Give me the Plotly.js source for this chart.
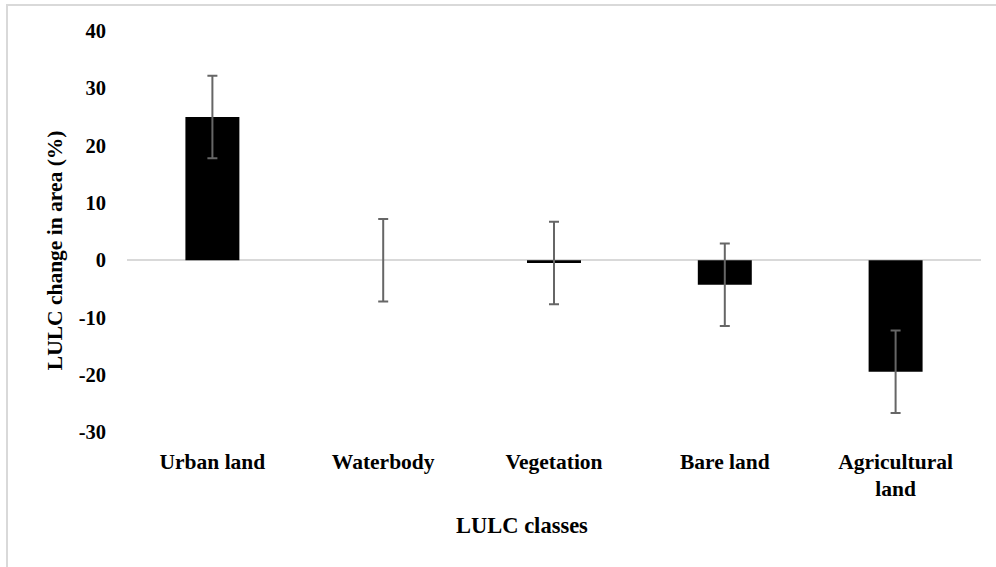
<!DOCTYPE html>
<html>
<head>
<meta charset="utf-8">
<script src="https://cdn.plot.ly/plotly-3.0.1.min.js"></script>
<style>
  html, body { margin: 0; padding: 0; background: #fff; }
  #wrap { position: relative; width: 996px; height: 567px; overflow: hidden; }
  #chart { position: absolute; left: 0; top: 0; width: 996px; height: 567px; }
  #frame { position: absolute; left: 6px; top: 4px; width: 1000px; height: 600px;
           border-left: 2px solid #d9d9d9; border-top: 2px solid #d9d9d9; pointer-events: none; }
</style>
</head>
<body>
<div id="wrap">
  <div id="chart"></div>
  <div id="frame"></div>
</div>
<script>
const categories = ["Urban land", "Waterbody", "Vegetation", "Bare land", "Agricultural<br>land"];
const changePct = [25.0, 0.0, -0.5, -4.3, -19.5];
const errorPct = [7.2, 7.2, 7.2, 7.2, 7.2];
const yTicks = [-30, -20, -10, 0, 10, 20, 30, 40];

const font = "'Liberation Serif', 'Times New Roman', serif";

const trace = {
  type: "bar",
  x: categories,
  y: changePct,
  width: 0.316,
  marker: { color: "#000000", line: { width: 0 } },
  error_y: { type: "data", array: errorPct, visible: true, color: "#666666", thickness: 2, width: 5 },
  hoverinfo: "x+y"
};

const layout = {
  width: 996,
  height: 567,
  margin: { l: 127, r: 15, t: 31, b: 135 },
  paper_bgcolor: "#ffffff",
  plot_bgcolor: "#ffffff",
  showlegend: false,
  font: { family: font, color: "#000000" },
  xaxis: {
    type: "category",
    showgrid: false,
    showline: false,
    zeroline: false,
    ticks: "",
    tickfont: { family: font, size: 21.5, color: "#000000", weight: "bold" },
    ticklabelstandoff: 14
  },
  yaxis: {
    range: [-30, 40],
    tickvals: yTicks,
    ticktext: yTicks.map(String),
    showgrid: false,
    showline: false,
    zeroline: true,
    zerolinecolor: "#d9d9d9",
    zerolinewidth: 2,
    ticks: "",
    tickfont: { family: font, size: 20.5, color: "#000000", weight: "bold" },
    ticklabelstandoff: 20
  },
  annotations: [
    {
      text: "<b>LULC classes</b>",
      xref: "paper", yref: "paper",
      x: 0.4625, y: -0.233,
      xanchor: "center", yanchor: "middle",
      showarrow: false,
      font: { family: font, size: 22.5, color: "#000000" }
    },
    {
      text: "<b>LULC change in area (%)</b>",
      xref: "paper", yref: "paper",
      x: -0.084, y: 0.454,
      xanchor: "center", yanchor: "middle",
      textangle: -90,
      showarrow: false,
      font: { family: font, size: 21.5, color: "#000000" }
    }
  ]
};

Plotly.newPlot("chart", [trace], layout, { displayModeBar: false, staticPlot: true });
</script>
</body>
</html>
